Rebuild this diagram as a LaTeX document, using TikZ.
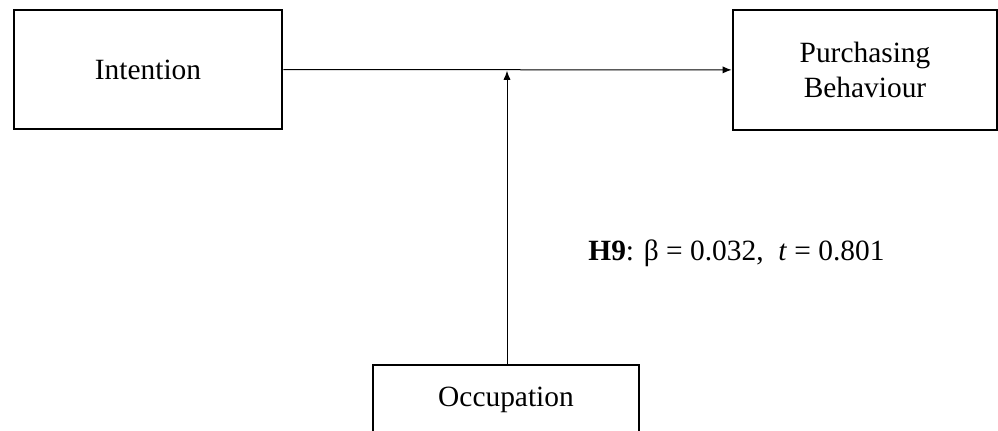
\documentclass[tikz,border=0pt]{standalone}
\usepackage{fontspec}
\setmainfont{Liberation Serif}
\usetikzlibrary{arrows.meta}

\begin{document}
\begin{tikzpicture}[x=0.5pt, y=-0.5pt,
    box/.style={draw, line width=1.4pt, align=center, inner sep=0pt,
      font=\fontsize{14.7}{17.5}\selectfont},
    link/.style={line width=0.5pt, -{Latex[length=4.5pt,width=3.6pt]}}]
  \useasboundingbox (0,0) rectangle (998,431);
  % Model
  \node[box, minimum width=134pt, minimum height=59.5pt] (intention) at (148,69.5) {Intention};
  \node[box, minimum width=132pt, minimum height=60pt] (behaviour) at (865,70) {Purchasing\\Behaviour};
  \node[box, minimum width=133pt, minimum height=35pt] (occupation) at (506,400) {Occupation};
  \coordinate (moderate) at (507,70.8);

  \draw[link] (intention) -- (behaviour);
  \draw[link] (occupation.north -| moderate) -- (moderate);

  \node[anchor=base west, inner sep=0pt, font=\fontsize{14.7}{17.5}\selectfont] (h9) at (588,261)
    {\textbf{H9}: β = 0.032,\ \ \textit{t} = 0.801};
\end{tikzpicture}
\end{document}
